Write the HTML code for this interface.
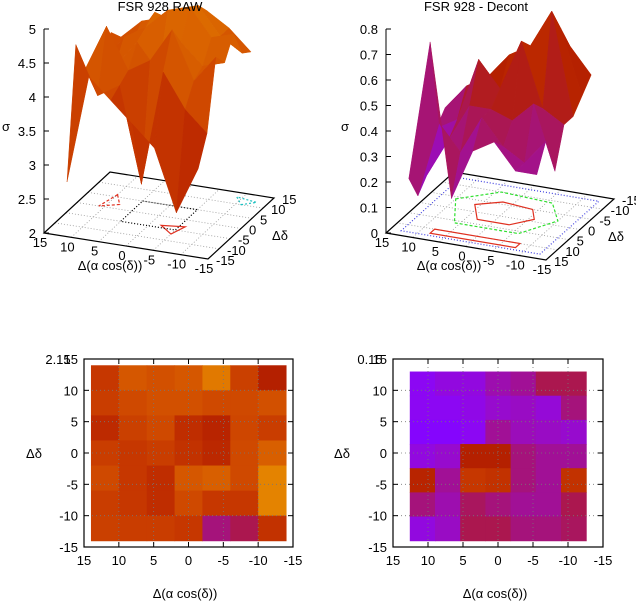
<!DOCTYPE html>
<html><head><meta charset="utf-8"><style>
body{margin:0;background:#fff;}
svg{display:block;font-family:"Liberation Sans",sans-serif;font-size:12px;}
</style></head><body>
<svg id="c" width="636" height="602" viewBox="0 0 636 602"></svg>
<script>
const ticks=[15,10,5,0,-5,-10,-15];
const ticksR=[-15,-10,-5,0,5,10,15];
const zTicksL=[2,2.5,3,3.5,4,4.5,5];
const zTicksR=[0,0.1,0.2,0.3,0.4,0.5,0.6,0.7,0.8];
const gridX=[12,8,4,0,-4,-8,-12];
const gridY=[-12,-8,-4,0,4,8,12];
// surface heights (rows front->back, cols left->right)
const rawZ=[
[2.7,4.3,4.0,3.7,3.4,2.5,3.2],
[4.6,3.9,4.1,2.7,4.4,3.9,3.6],
[4.1,4.8,4.2,4.4,4.9,4.2,4.6],
[4.2,4.1,4.5,4.1,4.6,4.3,4.4],
[4.0,4.4,4.6,4.9,5.0,4.6,4.7],
[4.3,4.2,4.7,4.6,4.9,4.5,4.3],
[4.1,4.4,4.5,4.6,4.7,4.5,4.2]];
const decZ=[
[0.2,0.75,0.15,0.35,0.4,0.3,0.3],
[0.1,0.4,0.3,0.45,0.35,0.3,0.4],
[0.15,0.3,0.45,0.45,0.42,0.5,0.25],
[0.3,0.35,0.6,0.5,0.7,0.45,0.4],
[0.35,0.45,0.5,0.6,0.65,0.8,0.4],
[0.3,0.35,0.45,0.55,0.6,0.7,0.45],
[0.3,0.35,0.4,0.5,0.55,0.6,0.5]];
// heatmap palette values (rows top->bottom, cols left->right)
const rawMap=[
[0.6,0.7,0.68,0.7,0.78,0.63,0.5],
[0.62,0.66,0.68,0.68,0.66,0.66,0.68],
[0.55,0.63,0.66,0.56,0.52,0.65,0.62],
[0.62,0.6,0.62,0.58,0.54,0.66,0.72],
[0.66,0.6,0.56,0.7,0.72,0.66,0.8],
[0.62,0.6,0.56,0.66,0.6,0.6,0.8],
[0.63,0.62,0.62,0.6,0.42,0.45,0.58]];
const decMap=[
[0.3,0.33,0.33,0.38,0.4,0.45,0.45],
[0.3,0.3,0.32,0.35,0.36,0.34,0.42],
[0.27,0.27,0.3,0.4,0.37,0.36,0.35],
[0.33,0.35,0.5,0.5,0.42,0.4,0.4],
[0.52,0.4,0.6,0.58,0.42,0.4,0.58],
[0.42,0.38,0.44,0.42,0.4,0.4,0.45],
[0.33,0.36,0.45,0.45,0.42,0.42,0.44]];

const NS="http://www.w3.org/2000/svg";
const svg=document.getElementById('c');
function el(t,a,p){const e=document.createElementNS(NS,t);for(const k in a)e.setAttribute(k,a[k]);(p||svg).appendChild(e);return e;}
function pal(x){x=Math.max(0,Math.min(1,x));const r=Math.sqrt(x),g=x*x*x,b=Math.max(0,Math.sin(2*Math.PI*x));return `rgb(${Math.round(r*255)},${Math.round(g*255)},${Math.round(b*255)})`;}
function txt(x,y,s,anchor,name){const t=el('text',{x:x,y:y,'text-anchor':anchor||'middle','font-size':13});t.textContent=s;return t;}

function surf(o){
  const g=el('g',{});
  
  
  const P=(x,y,z)=>{const u=(15-x)/30,v=o.flipY?(15-y)/30:(y+15)/30;const h=(z-o.z0)/(o.z1-o.z0)*o.zh;
    return [o.FL[0]+u*(o.FR[0]-o.FL[0])+v*(o.BL[0]-o.FL[0]),o.FL[1]+u*(o.FR[1]-o.FL[1])+v*(o.BL[1]-o.FL[1])-h];};
  const c=[P(15,o.flipY?15:-15,o.z0),P(-15,o.flipY?15:-15,o.z0),P(-15,o.flipY?-15:15,o.z0),P(15,o.flipY?-15:15,o.z0)];
  for(const t of [10,5,0,-5,-10]){
    let a=P(t,-15,o.z0),b=P(t,15,o.z0);el('line',{x1:a[0],y1:a[1],x2:b[0],y2:b[1],stroke:'#999','stroke-dasharray':'1,2','stroke-width':0.8},g);
    a=P(-15,t,o.z0);b=P(15,t,o.z0);el('line',{x1:a[0],y1:a[1],x2:b[0],y2:b[1],stroke:'#999','stroke-dasharray':'1,2','stroke-width':0.8},g);
  }
  // contour hints on base
  o.cont.forEach((cc,k)=>{const pts=cc.pts.map(p=>P(p[0],p[1],o.z0).join(',')).join(' ');
    const pl=el('polygon',{points:pts,fill:'none',stroke:cc.col,'stroke-width':1.2,'stroke-dasharray':cc.dash},g);
    });
  el('polygon',{points:c.map(p=>p.join(',')).join(' '),fill:'none',stroke:'#000','stroke-width':1.2},g);
  el('line',{x1:c[0][0],y1:c[0][1],x2:c[0][0],y2:c[0][1]-o.zh,stroke:'#000'},g);
  o.zt.forEach(z=>{const y=c[0][1]-(z-o.z0)/(o.z1-o.z0)*o.zh;el('line',{x1:c[0][0],y1:y,x2:c[0][0]+5,y2:y,stroke:'#000'},g);txt(c[0][0]-8,y+5,String(z),'end','z-tick-label');});
  ticks.forEach(t=>{const p=P(t,o.flipY?15:-15,o.z0);txt(p[0]-4,p[1]+14,String(t),'middle','x-tick-label');});
  o.yt.forEach(t=>{const p=P(-15,t,o.z0);txt(p[0]+8,p[1]+6,String(t),'start','y-tick-label');});
  const q=[];
  for(let i=0;i<6;i++)for(let j=0;j<6;j++){
    const yv=k=>o.flipY?-gridY[k]:gridY[k];
    const pts=[[j,i],[j+1,i],[j+1,i+1],[j,i+1]].map(([a,b])=>P(gridX[a],yv(b),o.data[b][a]));
    const zm=(o.data[i][j]+o.data[i][j+1]+o.data[i+1][j]+o.data[i+1][j+1])/4;
    const depth=P(gridX[j]-2,yv(i)+(o.flipY?-2:2),o.z0)[1];
    q.push({pts,zm,depth});
  }
  q.sort((a,b)=>a.depth-b.depth);
  q.forEach(s=>{const pg=el('polygon',{points:s.pts.map(p=>p.join(',')).join(' '),fill:pal(o.col(s.zm)),stroke:pal(o.col(s.zm)),'stroke-width':0.5},g);
    });
}
surf({name:'surface-raw',FL:[44,233],FR:[208,259],BL:[110,172],z0:2,z1:5,zh:204,data:rawZ,zt:zTicksL,yt:ticksR,flipY:false,col:z=>0.38+0.4*(z-2)/3,
  cont:[{col:'#e03020',dash:'none',pts:[[-2,-4],[-6,-3],[-5,-7]]},{col:'#e03020',dash:'3,2',pts:[[10,6],[8,2],[11,0]]},{col:'#20c0c0',dash:'2,2',pts:[[-11,10],[-13,12],[-9,13]]},{col:'#000',dash:'1,2',pts:[[5,5],[-5,5],[-5,-5],[5,-5]]}]});
surf({name:'surface-decont',FL:[386,233],FR:[546,260],BL:[454,172],z0:0,z1:0.8,zh:204,data:decZ,zt:zTicksR,yt:ticks,flipY:true,col:z=>0.28+0.32*z/0.8,
  cont:[{col:'#e03020',dash:'none',pts:[[6,-3],[2,-6],[-4,-5],[-6,-1],[-3,3],[3,3]]},{col:'#30e030',dash:'3,2',pts:[[10,-4],[4,-10],[-6,-9],[-10,-2],[-6,6],[6,6]]},{col:'#4040e0',dash:'1,2',pts:[[13,-13],[-13,-13],[-13,13],[13,13]]},{col:'#e03020',dash:'none',pts:[[8,10],[-8,10],[-8,12],[8,12]]}]});
txt(160,11,'FSR 928 RAW','middle','title-raw');
txt(476,11,'FSR 928 - Decont','middle','title-decont');
txt(6,131,'σ','middle','z-axis-title-raw');
txt(345,131,'σ','middle','z-axis-title-decont');
txt(110,270,'Δ(α cos(δ))','middle','x-axis-title-raw');
txt(449,270,'Δ(α cos(δ))','middle','x-axis-title-decont');
txt(280,240,'Δδ','middle','y-axis-title-raw');
txt(616,241,'Δδ','middle','y-axis-title-decont');

function heat(o){
  const g=el('g',{});
  
  
  const X=v=>o.fx0+(15-v)/30*(o.fx1-o.fx0), Y=v=>o.fy1-(v+15)/30*(o.fy1-o.fy0);
  const cw=(o.dx0-o.dx1)/7, ch=(o.dy0-o.dy1)/7;
  o.data.forEach((row,r)=>row.forEach((v,ci)=>{
    const x0=X(o.dx0-ci*cw),x1=X(o.dx0-(ci+1)*cw),y0=Y(o.dy0-r*ch),y1=Y(o.dy0-(r+1)*ch);
    const rc=el('rect',{x:x0,y:y0,width:x1-x0+0.5,height:y1-y0+0.5,fill:pal(v)},g);
    
  }));
  ticks.forEach(t=>{
    const x=X(t),y=Y(t);
    if(t!==15&&t!==-15){el('line',{x1:x,y1:o.fy0,x2:x,y2:o.fy1,stroke:'#777','stroke-dasharray':'1,3','stroke-width':0.8},g);
      el('line',{x1:o.fx0,y1:y,x2:o.fx1,y2:y,stroke:'#777','stroke-dasharray':'1,3','stroke-width':0.8},g);}
    el('line',{x1:x,y1:o.fy1,x2:x,y2:o.fy1-5,stroke:'#000'},g);el('line',{x1:x,y1:o.fy0,x2:x,y2:o.fy0+5,stroke:'#000'},g);
    el('line',{x1:o.fx0,y1:y,x2:o.fx0+5,y2:y,stroke:'#000'},g);el('line',{x1:o.fx1,y1:y,x2:o.fx1-5,y2:y,stroke:'#000'},g);
    txt(x,o.fy1+18,String(t),'middle','x-tick-label');
    txt(o.fx0-6,y+5,String(t),'end','y-tick-label');
  });
  el('rect',{x:o.fx0,y:o.fy0,width:o.fx1-o.fx0,height:o.fy1-o.fy0,fill:'none',stroke:'#000','stroke-width':1.2},g);
}
heat({name:'heatmap-raw',fx0:84,fx1:293,fy0:359,fy1:547,dx0:14,dx1:-14,dy0:14,dy1:-14,data:rawMap});
heat({name:'heatmap-decont',fx0:393,fx1:603,fy0:359,fy1:547,dx0:12.6,dx1:-12.6,dy0:13,dy1:-14,data:decMap});
txt(58,364,'2.15','middle','colorbox-label-raw');
txt(370,364,'0.15','middle','colorbox-label-decont');
txt(34,458,'Δδ','middle','y-axis-title-heat-raw');
txt(342,458,'Δδ','middle','y-axis-title-heat-decont');
txt(185,598,'Δ(α cos(δ))','middle','x-axis-title-heat-raw');
txt(495,598,'Δ(α cos(δ))','middle','x-axis-title-heat-decont');
</script>
</body></html>
